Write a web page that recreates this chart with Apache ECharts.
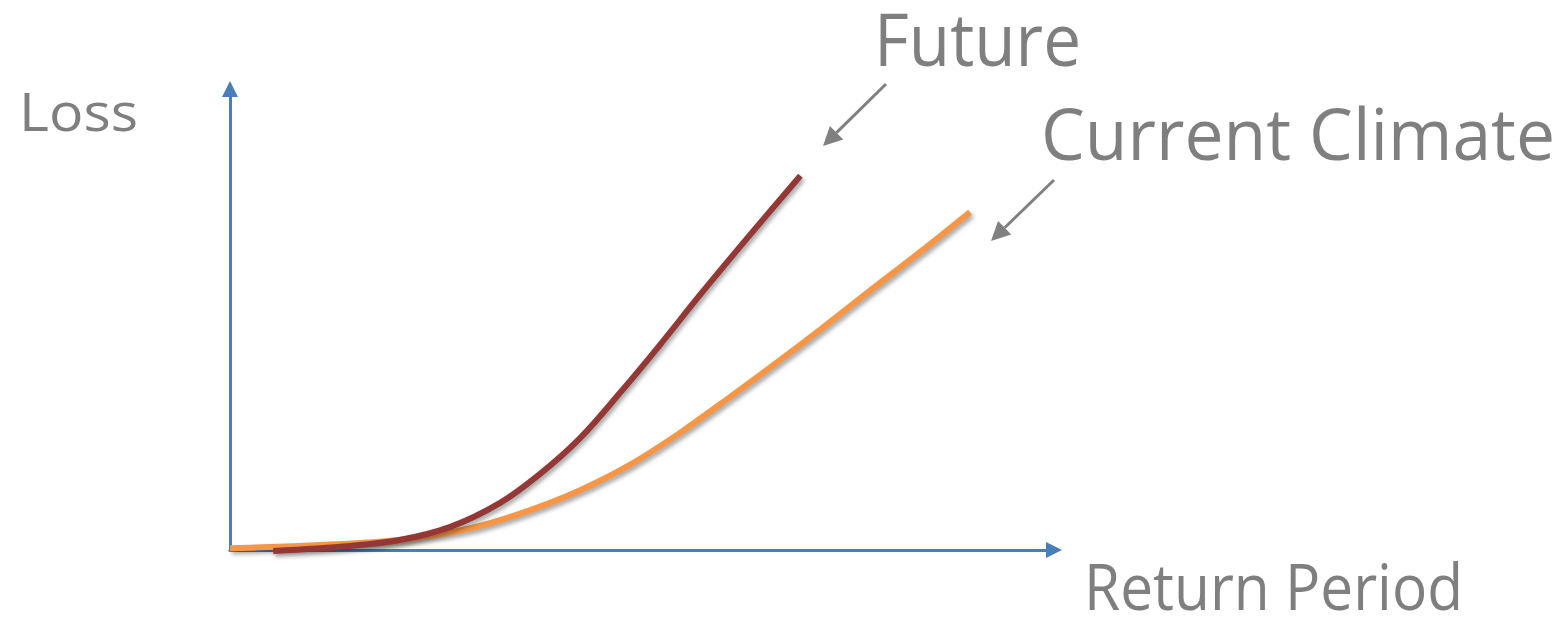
<!DOCTYPE html>
<html>
<head>
<meta charset="utf-8">
<script src="https://cdn.jsdelivr.net/npm/echarts@6/dist/echarts.min.js"></script>
<style>
  html, body { margin: 0; padding: 0; background: #ffffff; }
  #chart { width: 1563px; height: 621px; }
</style>
</head>
<body>
<div id="chart"></div>
<script>
// Loss-exceedance curves: [return period, loss] in relative units (0-100)
const currentClimate = [
  [0, 0.4], [8.6, 0.9], [18.4, 1.8], [24.5, 3.1], [30.6, 5.3], [36.8, 8.8],
  [42.9, 13.2], [49.0, 18.8], [55.1, 25.8], [61.3, 33.8], [67.4, 41.9],
  [72.3, 48.6], [78.4, 57.2], [84.6, 65.8], [90.7, 74.6]
];
const future = [
  [5.3, -0.2], [14.7, 0.9], [20.8, 2.2], [27.0, 5.1], [33.1, 10.4], [38.0, 16.8],
  [42.9, 24.7], [47.8, 34.7], [52.7, 45.3], [57.6, 56.3], [63.7, 69.5],
  [69.9, 82.6]
];
const seriesNames = ['Current Climate', 'Future'];
const axisNames = ['Return Period', 'Loss'];

const textColor = '#7f7f7f';
const fontFamily = '"Open Sans", "Noto Sans", sans-serif';

const chart = echarts.init(document.getElementById('chart'), null, { renderer: 'canvas' });

const lineShadow = {
  shadowColor: 'rgba(0,0,0,0.35)',
  shadowBlur: 4,
  shadowOffsetX: 2,
  shadowOffsetY: 3
};

const axisCommon = {
  type: 'value',
  min: 0,
  max: 100,
  axisLine: {
    show: true,
    symbol: ['none', 'triangle'],
    symbolSize: [16, 16],
    symbolOffset: [0, 8],
    lineStyle: { color: '#4a7ebb', width: 3 }
  },
  axisTick: { show: false },
  axisLabel: { show: false },
  splitLine: { show: false }
};

// text label fitted to a given ink width (font size set from cap height)
const measureCtx = document.createElement('canvas').getContext('2d');
function label(text, left, middle, size, width) {
  const font = size + 'px ' + fontFamily;
  measureCtx.font = font;
  const w = measureCtx.measureText(text).width;
  return {
    type: 'text', x: left, y: middle, scaleX: width / w,
    style: { x: 0, y: 0, text: text, fill: textColor, font: font, verticalAlign: 'middle' }
  };
}

// arrow pointing from a label towards its curve
function pointer(x1, y1, x2, y2) {
  const ang = Math.atan2(y2 - y1, x2 - x1);
  const len = 19, half = 9.5;
  const bx = x2 - len * Math.cos(ang), by = y2 - len * Math.sin(ang);
  const px = -Math.sin(ang) * half, py = Math.cos(ang) * half;
  return [
    { type: 'line', shape: { x1: x1, y1: y1, x2: bx, y2: by },
      style: { stroke: '#808080', lineWidth: 3 } },
    { type: 'polygon', shape: { points: [[x2, y2], [bx + px, by + py], [bx - px, by - py]] },
      style: { fill: '#808080' } }
  ];
}

chart.setOption({
  backgroundColor: '#ffffff',
  animation: false,
  grid: { left: 230, top: 97, width: 816, height: 453, containLabel: false },
  xAxis: Object.assign({}, axisCommon),
  yAxis: Object.assign({}, axisCommon),
  series: [
    {
      name: seriesNames[0], type: 'line', data: currentClimate, smooth: 0.35,
      showSymbol: false, clip: false, z: 3,
      lineStyle: Object.assign({ color: '#f79646', width: 6 }, lineShadow)
    },
    {
      name: seriesNames[1], type: 'line', data: future, smooth: 0.35,
      showSymbol: false, clip: false, z: 4,
      lineStyle: Object.assign({ color: '#953735', width: 6 }, lineShadow)
    }
  ],
  graphic: [
    label(axisNames[1], 19, 116, 53, 119),
    label(axisNames[0], 1084, 592, 64, 379),
    label(seriesNames[1], 874, 45, 74, 207),
    label(seriesNames[0], 1041, 140, 71, 514)
  ].concat(pointer(886, 84, 823, 146), pointer(1054, 180, 991, 241))
});
</script>
</body>
</html>
